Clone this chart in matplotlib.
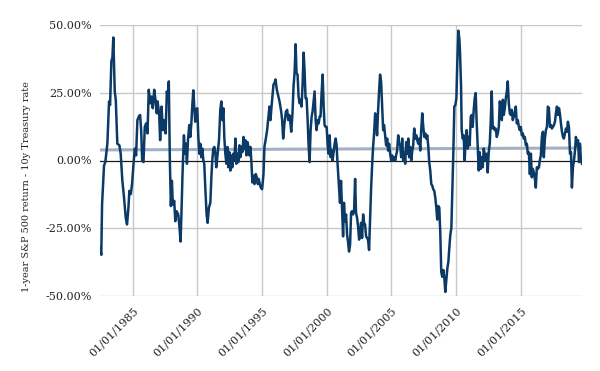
import matplotlib
matplotlib.use("Agg")
import matplotlib.pyplot as plt
from matplotlib.ticker import FixedLocator, FuncFormatter
from datetime import datetime, timedelta

# ---- data: decimal year -> 1y S&P 500 return minus 10y Treasury rate (%) ----
years_1 = [1982.47, 1982.57, 1982.63, 1982.78, 1982.88, 1983.04, 1983.17, 1983.25, 1983.35, 1983.43,
           1983.50, 1983.61, 1983.69, 1983.81, 1983.97, 1984.07, 1984.20, 1984.33, 1984.46, 1984.56,
           1984.67, 1984.74, 1984.85, 1984.95, 1985.06, 1985.16, 1985.26, 1985.36, 1985.47, 1985.57,
           1985.65, 1985.73, 1985.83, 1985.93, 1986.04, 1986.14, 1986.24, 1986.35, 1986.45, 1986.55,
           1986.66, 1986.76, 1986.86, 1986.92, 1987.04, 1987.12, 1987.23, 1987.33, 1987.43, 1987.54,
           1987.64, 1987.72, 1987.79, 1987.87, 1987.95, 1988.03, 1988.10, 1988.21, 1988.29, 1988.39,
           1988.52, 1988.62, 1988.70, 1988.78, 1988.85, 1988.96, 1989.03, 1989.11, 1989.19, 1989.27,
           1989.37, 1989.45, 1989.53, 1989.60, 1989.68, 1989.76, 1989.83, 1989.91, 1989.99, 1990.07,
           1990.15, 1990.22, 1990.30, 1990.38, 1990.46, 1990.53, 1990.61, 1990.71, 1990.79, 1990.89,
           1991.00, 1991.08, 1991.15, 1991.23, 1991.31, 1991.39, 1991.46]
values_1 = [-32.3, -34.8, -16.2, -1.9, -0.6, 6.2, 21.8, 20.5, 36.7, 37.9,
            45.4, 25.5, 22.4, 6.2, 5.6, 2.5, -7.5, -13.7, -21.1, -23.6,
            -17.4, -11.2, -12.4, -8.7, -1.2, 4.4, 1.9, 14.9, 16.2, 16.8,
            11.2, 0.0, -0.6, 12.4, 13.7, 10.0, 26.1, 21.1, 23.6, 19.3,
            26.1, 22.4, 17.4, 21.8, 17.4, 7.5, 19.9, 11.2, 14.9, 10.0,
            25.5, 22.4, 29.2, 0.0, -16.8, -7.5, -16.2, -14.9, -22.4, -18.7,
            -19.9, -24.9, -29.9, -17.4, -5.0, 9.3, 2.5, 6.2, -1.2, 7.5,
            13.1, 8.7, 13.7, 19.9, 25.9, 19.9, 14.3, 18.7, 19.3, 8.7,
            2.5, 6.2, 1.2, 4.4, 0.0, -1.2, -10.0, -19.9, -23.0, -17.4,
            -15.6, -6.2, 0.0, 4.4, 5.0, 2.5, -2.5]

years_2 = [1991.67, 1991.77, 1991.85, 1991.93, 1992.01, 1992.08, 1992.16, 1992.24, 1992.32, 1992.39,
           1992.47, 1992.55, 1992.63, 1992.70, 1992.78, 1992.86, 1992.94, 1993.01, 1993.09, 1993.17,
           1993.25, 1993.32, 1993.40, 1993.48, 1993.56, 1993.63, 1993.71, 1993.79, 1993.87, 1993.94,
           1994.02, 1994.10, 1994.18, 1994.25, 1994.33, 1994.41, 1994.51, 1994.59, 1994.67, 1994.74,
           1994.82, 1994.90, 1995.00, 1995.11, 1995.18, 1995.29, 1995.39, 1995.49, 1995.57, 1995.65,
           1995.73, 1995.80, 1995.88, 1995.96, 1996.04, 1996.14, 1996.35, 1996.48, 1996.55, 1996.63,
           1996.73, 1996.84, 1996.94, 1997.02, 1997.10, 1997.17, 1997.25, 1997.35, 1997.43, 1997.51,
           1997.59, 1997.66, 1997.74, 1997.82, 1997.90, 1997.97, 1998.05, 1998.13, 1998.21, 1998.28,
           1998.36, 1998.44, 1998.52, 1998.59, 1998.67, 1998.75, 1998.83, 1998.90, 1998.98, 1999.06,
           1999.14, 1999.21, 1999.29, 1999.37, 1999.45, 1999.52, 1999.60, 1999.68, 1999.76, 1999.83,
           1999.91, 1999.99, 2000.07, 2000.14, 2000.22, 2000.30, 2000.38, 2000.45, 2000.53, 2000.61,
           2000.69, 2000.76, 2000.82]
values_2 = [7.5, 18.7, 21.8, 14.9, 19.3, 8.7, 2.5, -1.2, 5.0, -2.5,
            3.1, -3.7, 1.9, -2.5, 2.5, 0.0, 8.1, -1.2, 2.5, -0.6,
            5.6, 1.2, 5.0, 3.1, 8.7, 4.4, 7.5, 1.9, 6.8, 5.0,
            1.9, 5.0, -1.2, -8.1, -5.6, -8.7, -5.0, -6.2, -8.7, -6.8,
            -8.7, -10.0, -10.6, -5.0, 5.0, 8.1, 11.2, 16.2, 19.9, 14.9,
            19.9, 23.6, 28.0, 28.6, 29.9, 26.1, 21.8, 18.0, 14.9, 8.1,
            13.7, 18.0, 18.7, 14.9, 16.8, 14.9, 10.6, 17.4, 27.4, 32.3,
            42.9, 32.3, 31.7, 23.6, 21.1, 22.4, 19.9, 28.0, 39.8, 33.6,
            23.0, 23.0, 14.9, 6.2, -0.6, 11.2, 16.2, 18.0, 21.8, 25.5,
            14.9, 11.2, 14.9, 13.7, 16.2, 16.2, 24.9, 31.7, 19.9, 13.1,
            12.4, 12.4, 5.6, 2.5, 9.3, 1.2, 3.7, 0.0, 3.1, 6.2,
            8.1, 5.6, 0.0]

years_3 = [2000.95, 2001.02, 2001.10, 2001.18, 2001.26, 2001.33, 2001.41, 2001.49, 2001.57, 2001.64,
           2001.72, 2001.80, 2001.88, 2001.95, 2002.03, 2002.11, 2002.19, 2002.26, 2002.34, 2002.42,
           2002.50, 2002.57, 2002.65, 2002.73, 2002.81, 2002.88, 2002.96, 2003.04, 2003.12, 2003.19,
           2003.27, 2003.35, 2003.43, 2003.50, 2003.58, 2003.66, 2003.74, 2003.81, 2003.89, 2003.97,
           2004.05, 2004.12, 2004.20, 2004.28, 2004.36, 2004.43, 2004.51, 2004.59, 2004.67, 2004.74,
           2004.82, 2004.90, 2004.98, 2005.05, 2005.13, 2005.21, 2005.29, 2005.36, 2005.44, 2005.52,
           2005.60, 2005.68, 2005.75, 2005.83, 2005.91, 2005.99, 2006.06, 2006.14, 2006.22, 2006.30,
           2006.37, 2006.45, 2006.53, 2006.61, 2006.68, 2006.76, 2006.84, 2006.92, 2006.99, 2007.07,
           2007.15, 2007.23, 2007.30, 2007.38, 2007.46, 2007.54, 2007.61, 2007.69, 2007.77, 2007.85,
           2007.92, 2008.00, 2008.08, 2008.16, 2008.23, 2008.31, 2008.39, 2008.47, 2008.54, 2008.62,
           2008.70, 2008.78, 2008.85, 2008.93, 2009.01, 2009.09, 2009.16, 2009.24, 2009.32, 2009.40,
           2009.47, 2009.55, 2009.63, 2009.71, 2009.78, 2009.86, 2009.94, 2010.02, 2010.09, 2010.17]
values_3 = [-10.0, -15.6, -7.5, -17.4, -28.0, -15.6, -22.4, -19.9, -27.4, -29.9,
            -33.6, -31.1, -19.3, -18.7, -19.9, -18.7, -6.8, -19.3, -21.1, -24.3,
            -29.2, -27.4, -23.0, -28.6, -19.9, -23.0, -23.6, -28.0, -28.6, -29.2,
            -33.0, -21.1, -10.0, -2.5, 5.0, 10.0, 17.4, 14.9, 9.3, 18.7,
            26.1, 31.7, 29.2, 20.5, 11.2, 13.1, 9.3, 5.6, 8.1, 3.7,
            6.2, 2.5, 0.0, 1.9, 0.0, 1.2, 0.0, 1.9, 3.7, 9.3,
            6.2, 5.6, 1.2, 8.1, 0.0, 3.1, -1.2, 6.8, 2.5, 8.1,
            1.2, 5.0, 0.0, 3.7, 5.6, 11.8, 8.1, 9.3, 7.5, 6.2,
            8.1, 3.7, 11.2, 17.4, 12.4, 8.7, 10.0, 8.1, 9.3, 5.0,
            -0.6, -3.7, -8.7, -9.3, -10.6, -11.2, -13.7, -17.4, -21.8, -16.8,
            -17.4, -27.4, -41.1, -42.9, -40.4, -43.5, -48.5, -44.2, -39.8, -37.3,
            -32.3, -27.4, -24.9, -10.0, 2.5, 19.9, 20.5, 23.0, 36.1, 47.9]

years_4 = [2010.25, 2010.30, 2010.38, 2010.43, 2010.51, 2010.58, 2010.66, 2010.74, 2010.82, 2010.89,
           2010.97, 2011.05, 2011.13, 2011.20, 2011.28, 2011.36, 2011.44, 2011.51, 2011.59, 2011.67,
           2011.75, 2011.82, 2011.90, 2011.98, 2012.06, 2012.13, 2012.21, 2012.29, 2012.37, 2012.44,
           2012.52, 2012.60, 2012.68, 2012.75, 2012.83, 2012.91, 2012.99, 2013.06, 2013.14, 2013.22,
           2013.30, 2013.37, 2013.45, 2013.53, 2013.61, 2013.68, 2013.76, 2013.84, 2013.92, 2013.99,
           2014.07, 2014.15, 2014.23, 2014.30, 2014.38, 2014.46, 2014.54, 2014.61, 2014.69, 2014.77,
           2014.85, 2014.92, 2015.00, 2015.08, 2015.16, 2015.23, 2015.31, 2015.39, 2015.47, 2015.54,
           2015.62, 2015.70, 2015.78, 2015.85, 2015.93, 2016.01, 2016.09, 2016.16, 2016.24, 2016.32,
           2016.40, 2016.47, 2016.55, 2016.63, 2016.71, 2016.78, 2016.86, 2016.94, 2017.02, 2017.09,
           2017.17, 2017.25, 2017.33, 2017.40, 2017.48, 2017.56, 2017.64, 2017.71, 2017.79, 2017.87,
           2017.95, 2018.02, 2018.10, 2018.18, 2018.26, 2018.33, 2018.41, 2018.49, 2018.57, 2018.64,
           2018.72, 2018.80, 2018.88, 2018.95, 2019.03, 2019.11, 2019.19, 2019.26, 2019.34, 2019.42,
           2019.50, 2019.57, 2019.65, 2019.73]
values_4 = [44.8, 39.8, 27.4, 11.2, 8.1, 9.3, 0.0, 8.1, 11.2, 4.4,
            8.7, 5.6, 16.2, 16.8, 12.4, 18.7, 23.0, 24.9, 13.7, 5.0,
            -3.7, 3.1, -3.1, 1.2, -2.5, 4.4, 2.5, 0.0, 2.5, -4.4,
            3.1, 6.2, 14.9, 25.5, 11.8, 12.4, 11.2, 11.8, 8.7, 10.0,
            12.4, 21.8, 19.9, 14.9, 22.4, 16.8, 19.3, 23.0, 25.5, 29.2,
            21.1, 17.4, 16.8, 18.7, 14.9, 16.2, 18.0, 19.9, 13.7, 14.9,
            12.4, 11.2, 12.4, 9.3, 10.0, 8.1, 8.7, 5.6, 6.2, 2.5,
            3.1, -5.0, 2.5, -6.2, -3.1, -4.4, -6.8, -10.0, -2.5, -3.1,
            -2.5, 0.0, 1.9, 8.7, 10.6, 1.2, 8.1, 11.2, 12.4, 19.9,
            19.3, 12.4, 13.1, 11.8, 12.4, 13.1, 14.3, 17.4, 19.9, 16.8,
            19.3, 17.4, 13.7, 10.6, 8.7, 8.1, 10.0, 11.8, 10.6, 14.3,
            12.4, 2.5, 3.1, -10.0, -2.5, 0.0, 3.7, 8.7, 5.6, 7.5,
            -0.6, 6.2, 0.0, -1.2]

# faint reference line (start / end level, %)
ref_levels = [3.9, 4.6]

y_ticks = [-50, -25, 0, 25, 50]
x_tick_years = [1985, 1990, 1995, 2000, 2005, 2010, 2015]
y_label = "1-year S&P 500 return - 10y Treasury rate"


def to_date(y):
    yi = int(y)
    return datetime(yi, 1, 1) + timedelta(days=(y - yi) * 365.25)


years = years_1 + years_2 + years_3 + years_4
values = values_1 + values_2 + values_3 + values_4
dates = [to_date(y) for y in years]

plt.rcParams["font.family"] = ["DejaVu Serif"]

fig = plt.figure(figsize=(6.0, 3.71), dpi=100)
ax = fig.add_axes([100 / 600, 1 - 296 / 371, 482 / 600, 271 / 371])

grid_c = "#c8c8c8"
for t in y_ticks:
    if t != 0:
        ax.axhline(t, color=grid_c, lw=1.0, zorder=1)
for yr in x_tick_years:
    ax.axvline(datetime(yr, 1, 1), color=grid_c, lw=1.0, zorder=1)

ax.plot([dates[0], dates[-1]], ref_levels, color="#a2b2c4", lw=2.2, zorder=2,
        solid_capstyle="butt")
ax.axhline(0, color="#1a1a1a", lw=0.9, zorder=3)
ax.plot(dates, values, color="#0b3a66", lw=1.8, zorder=4, solid_joinstyle="round")

ax.set_xlim(dates[0], dates[-1])
ax.set_ylim(-50, 50)
for s in ax.spines.values():
    s.set_visible(False)

ax.yaxis.set_major_locator(FixedLocator(y_ticks))
ax.yaxis.set_major_formatter(FuncFormatter(lambda v, p: f"{v:.2f}%"))
ax.set_xticks([datetime(yr, 1, 1) for yr in x_tick_years])
ax.set_xticklabels([f"01/01/{yr}" for yr in x_tick_years])
ax.tick_params(axis="both", length=0, labelsize=8, colors="#222222")
ax.tick_params(axis="y", pad=6)
ax.tick_params(axis="x", pad=7)
for lab in ax.get_xticklabels():
    lab.set_rotation(45)
    lab.set_ha("right")
    lab.set_va("top")
    lab.set_rotation_mode("anchor")

fig.text(27 / 600, 1 - 187 / 371, y_label, rotation=90, ha="center", va="center",
         fontsize=7.0, color="#222222")

fig.savefig("out.png", dpi=100, facecolor="white")
